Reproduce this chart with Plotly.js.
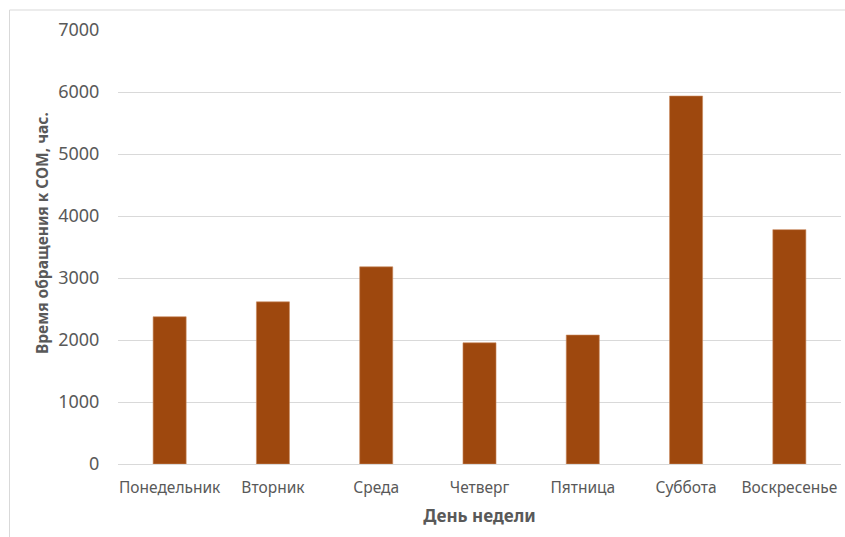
<!DOCTYPE html>
<html>
<head>
<meta charset="utf-8">
<script src="https://cdn.plot.ly/plotly-3.0.1.min.js"></script>
<style>
html,body{margin:0;padding:0;background:#fff;}
#chart{width:845px;height:537px;}
</style>
</head>
<body>
<div id="chart"></div>
<script>
const days = ["Понедельник", "Вторник", "Среда", "Четверг", "Пятница", "Суббота", "Воскресенье"];
const hours = [2375, 2615, 3180, 1955, 2080, 5935, 3780];
const yTicks = [0, 1000, 2000, 3000, 4000, 5000, 6000, 7000];

const trace = {
  type: "bar",
  x: days,
  y: hours,
  width: 0.32,
  marker: {color: "#9E480E", line: {color: "#c98a5e", width: 0.6}},
  hoverinfo: "x+y"
};

const layout = {
  width: 845,
  height: 537,
  margin: {l: 118, r: 4, t: 30, b: 73},
  paper_bgcolor: "#ffffff",
  plot_bgcolor: "#ffffff",
  showlegend: false,
  bargap: 0.68,
  font: {family: "Noto Sans, sans-serif", color: "#595959"},
  xaxis: {
    type: "category",
    showgrid: false,
    showline: true,
    linecolor: "#d9d9d9",
    linewidth: 1,
    ticks: "outside",
    ticklen: 9,
    tickcolor: "rgba(0,0,0,0)",
    tickfont: {size: 15.5, color: "#595959"},
    title: {text: "День недели", font: {size: 17, color: "#595959", weight: "bold"}, standoff: 13},
    fixedrange: true
  },
  yaxis: {
    range: [0, 7000],
    tickvals: yTicks,
    ticktext: yTicks.map(String),
    showgrid: true,
    gridcolor: "#d9d9d9",
    gridwidth: 1,
    zeroline: false,
    showline: false,
    ticks: "outside",
    ticklen: 14,
    tickcolor: "rgba(0,0,0,0)",
    tickfont: {size: 18, color: "#595959"},
    fixedrange: true
  },
  annotations: [
    {text: "Время обращения к СОМ, час.", xref: "paper", yref: "paper",
     x: (42-118)/723, y: (464-233)/434, xanchor: "center", yanchor: "middle",
     textangle: -90, showarrow: false,
     font: {size: 15.5, color: "#595959", weight: "bold"}}
  ],
  shapes: [
    {type: "line", xref: "paper", yref: "paper", x0: (9.5-118)/723, x1: 1.2, y0: 1 + (30-10)/434, y1: 1 + (30-10)/434, line: {color: "#d9d9d9", width: 1}},
    {type: "line", xref: "paper", yref: "paper", x0: (9.5-118)/723, x1: (9.5-118)/723, y0: 1 + (30-10)/434, y1: -0.3, line: {color: "#d9d9d9", width: 1}}
  ]
};

Plotly.newPlot("chart", [trace], layout, {displayModeBar: false, staticPlot: true});
</script>
</body>
</html>
